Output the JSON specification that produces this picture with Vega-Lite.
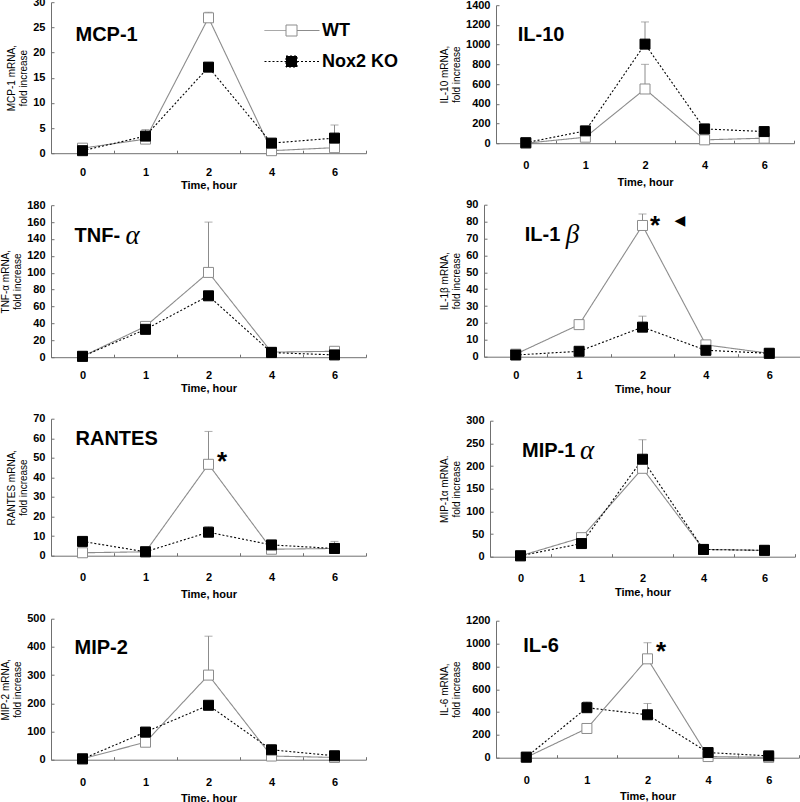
{
  "$schema": "https://vega.github.io/schema/vega-lite/v6.json",
  "padding": {"left": 0, "top": -4, "right": 0, "bottom": 0},
  "datasets": {
    "obs": [
      {"panel": "MCP-1", "group": "WT", "time": "0", "value": 1.0, "hi": 1.3},
      {"panel": "MCP-1", "group": "WT", "time": "1", "value": 2.8, "hi": 3.1},
      {"panel": "MCP-1", "group": "WT", "time": "2", "value": 26.9, "hi": 28.0},
      {"panel": "MCP-1", "group": "WT", "time": "4", "value": 0.5, "hi": 0.8},
      {"panel": "MCP-1", "group": "WT", "time": "6", "value": 1.1, "hi": 1.6},
      {"panel": "MCP-1", "group": "Nox2 KO", "time": "0", "value": 0.5, "hi": 0.7},
      {"panel": "MCP-1", "group": "Nox2 KO", "time": "1", "value": 3.4, "hi": 4.7},
      {"panel": "MCP-1", "group": "Nox2 KO", "time": "2", "value": 17.1, "hi": 18.0},
      {"panel": "MCP-1", "group": "Nox2 KO", "time": "4", "value": 2.0, "hi": 2.6},
      {"panel": "MCP-1", "group": "Nox2 KO", "time": "6", "value": 3.0, "hi": 5.6},
      {"panel": "IL-10", "group": "WT", "time": "0", "value": 0, "hi": 5},
      {"panel": "IL-10", "group": "WT", "time": "1", "value": 61, "hi": 70},
      {"panel": "IL-10", "group": "WT", "time": "2", "value": 550, "hi": 800},
      {"panel": "IL-10", "group": "WT", "time": "4", "value": 34, "hi": 40},
      {"panel": "IL-10", "group": "WT", "time": "6", "value": 51, "hi": 60},
      {"panel": "IL-10", "group": "Nox2 KO", "time": "0", "value": 5, "hi": 10},
      {"panel": "IL-10", "group": "Nox2 KO", "time": "1", "value": 125, "hi": 135},
      {"panel": "IL-10", "group": "Nox2 KO", "time": "2", "value": 1005, "hi": 1230},
      {"panel": "IL-10", "group": "Nox2 KO", "time": "4", "value": 145, "hi": 150},
      {"panel": "IL-10", "group": "Nox2 KO", "time": "6", "value": 118, "hi": 125},
      {"panel": "TNF-α", "group": "WT", "time": "0", "value": 1, "hi": 1},
      {"panel": "TNF-α", "group": "WT", "time": "1", "value": 36.5, "hi": 39},
      {"panel": "TNF-α", "group": "WT", "time": "2", "value": 100.4, "hi": 160},
      {"panel": "TNF-α", "group": "WT", "time": "4", "value": 6, "hi": 7},
      {"panel": "TNF-α", "group": "WT", "time": "6", "value": 7, "hi": 9},
      {"panel": "TNF-α", "group": "Nox2 KO", "time": "0", "value": 1, "hi": 1.5},
      {"panel": "TNF-α", "group": "Nox2 KO", "time": "1", "value": 33, "hi": 35},
      {"panel": "TNF-α", "group": "Nox2 KO", "time": "2", "value": 72.7, "hi": 74},
      {"panel": "TNF-α", "group": "Nox2 KO", "time": "4", "value": 5.5, "hi": 6.5},
      {"panel": "TNF-α", "group": "Nox2 KO", "time": "6", "value": 2.7, "hi": 3},
      {"panel": "IL-1β", "group": "WT", "time": "0", "value": 1.5, "hi": 2},
      {"panel": "IL-1β", "group": "WT", "time": "1", "value": 19, "hi": 20},
      {"panel": "IL-1β", "group": "WT", "time": "2", "value": 77.7, "hi": 84.5},
      {"panel": "IL-1β", "group": "WT", "time": "4", "value": 7, "hi": 8},
      {"panel": "IL-1β", "group": "WT", "time": "6", "value": 2, "hi": 2.5},
      {"panel": "IL-1β", "group": "Nox2 KO", "time": "0", "value": 1, "hi": 1},
      {"panel": "IL-1β", "group": "Nox2 KO", "time": "1", "value": 3.2, "hi": 3.5},
      {"panel": "IL-1β", "group": "Nox2 KO", "time": "2", "value": 17.5, "hi": 24},
      {"panel": "IL-1β", "group": "Nox2 KO", "time": "4", "value": 3.8, "hi": 4.2},
      {"panel": "IL-1β", "group": "Nox2 KO", "time": "6", "value": 2, "hi": 2.2},
      {"panel": "RANTES", "group": "WT", "time": "0", "value": 1.5, "hi": 1.8},
      {"panel": "RANTES", "group": "WT", "time": "1", "value": 2, "hi": 2.5},
      {"panel": "RANTES", "group": "WT", "time": "2", "value": 46.7, "hi": 63.5},
      {"panel": "RANTES", "group": "WT", "time": "4", "value": 3.3, "hi": 4},
      {"panel": "RANTES", "group": "WT", "time": "6", "value": 3.7, "hi": 4.2},
      {"panel": "RANTES", "group": "Nox2 KO", "time": "0", "value": 7.3, "hi": 8},
      {"panel": "RANTES", "group": "Nox2 KO", "time": "1", "value": 2, "hi": 2.5},
      {"panel": "RANTES", "group": "Nox2 KO", "time": "2", "value": 12, "hi": 14.8},
      {"panel": "RANTES", "group": "Nox2 KO", "time": "4", "value": 5.5, "hi": 6},
      {"panel": "RANTES", "group": "Nox2 KO", "time": "6", "value": 3.7, "hi": 7.3},
      {"panel": "MIP-1α", "group": "WT", "time": "0", "value": 2, "hi": 3},
      {"panel": "MIP-1α", "group": "WT", "time": "1", "value": 42, "hi": 45},
      {"panel": "MIP-1α", "group": "WT", "time": "2", "value": 195, "hi": 205},
      {"panel": "MIP-1α", "group": "WT", "time": "4", "value": 16, "hi": 18},
      {"panel": "MIP-1α", "group": "WT", "time": "6", "value": 14, "hi": 15},
      {"panel": "MIP-1α", "group": "Nox2 KO", "time": "0", "value": 2, "hi": 2.5},
      {"panel": "MIP-1α", "group": "Nox2 KO", "time": "1", "value": 29, "hi": 31},
      {"panel": "MIP-1α", "group": "Nox2 KO", "time": "2", "value": 215, "hi": 258},
      {"panel": "MIP-1α", "group": "Nox2 KO", "time": "4", "value": 16, "hi": 17},
      {"panel": "MIP-1α", "group": "Nox2 KO", "time": "6", "value": 14, "hi": 15},
      {"panel": "MIP-2", "group": "WT", "time": "0", "value": 3, "hi": 4},
      {"panel": "MIP-2", "group": "WT", "time": "1", "value": 62, "hi": 68},
      {"panel": "MIP-2", "group": "WT", "time": "2", "value": 300, "hi": 438},
      {"panel": "MIP-2", "group": "WT", "time": "4", "value": 13, "hi": 18},
      {"panel": "MIP-2", "group": "WT", "time": "6", "value": 8, "hi": 10},
      {"panel": "MIP-2", "group": "Nox2 KO", "time": "0", "value": 3, "hi": 4},
      {"panel": "MIP-2", "group": "Nox2 KO", "time": "1", "value": 98, "hi": 102},
      {"panel": "MIP-2", "group": "Nox2 KO", "time": "2", "value": 193, "hi": 196},
      {"panel": "MIP-2", "group": "Nox2 KO", "time": "4", "value": 35, "hi": 53},
      {"panel": "MIP-2", "group": "Nox2 KO", "time": "6", "value": 14, "hi": 16},
      {"panel": "IL-6", "group": "WT", "time": "0", "value": 3, "hi": 5},
      {"panel": "IL-6", "group": "WT", "time": "1", "value": 256, "hi": 270},
      {"panel": "IL-6", "group": "WT", "time": "2", "value": 866, "hi": 1007},
      {"panel": "IL-6", "group": "WT", "time": "4", "value": 10, "hi": 15},
      {"panel": "IL-6", "group": "WT", "time": "6", "value": 3, "hi": 5},
      {"panel": "IL-6", "group": "Nox2 KO", "time": "0", "value": 5, "hi": 8},
      {"panel": "IL-6", "group": "Nox2 KO", "time": "1", "value": 438, "hi": 490},
      {"panel": "IL-6", "group": "Nox2 KO", "time": "2", "value": 376, "hi": 475},
      {"panel": "IL-6", "group": "Nox2 KO", "time": "4", "value": 45, "hi": 55},
      {"panel": "IL-6", "group": "Nox2 KO", "time": "6", "value": 16, "hi": 20}
    ],
    "notes": [
      {"panel": "MCP-1", "kind": "label", "time": "0", "value": 23.4, "text": "MCP-1"},
      {"panel": "IL-10", "kind": "label", "time": "0", "value": 1096, "text": "IL-10"},
      {"panel": "TNF-α", "kind": "label", "time": "0", "value": 143, "text": "TNF-"},
      {"panel": "TNF-α", "kind": "greek", "time": "0", "value": 143, "text": "α"},
      {"panel": "IL-1β", "kind": "label", "time": "0", "value": 72, "text": "IL-1"},
      {"panel": "IL-1β", "kind": "greek", "time": "0", "value": 72, "text": "β"},
      {"panel": "IL-1β", "kind": "star", "time": "2", "value": 77.6, "text": "*"},
      {"panel": "IL-1β", "kind": "arrow", "time": "2", "value": 80.5, "text": "◀"},
      {"panel": "RANTES", "kind": "label", "time": "0", "value": 59.8, "text": "RANTES"},
      {"panel": "RANTES", "kind": "star", "time": "2", "value": 48, "text": "*"},
      {"panel": "MIP-1α", "kind": "label", "time": "0", "value": 234, "text": "MIP-1"},
      {"panel": "MIP-1α", "kind": "greek", "time": "0", "value": 234, "text": "α"},
      {"panel": "MIP-2", "kind": "label", "time": "0", "value": 397, "text": "MIP-2"},
      {"panel": "IL-6", "kind": "label", "time": "0", "value": 981, "text": "IL-6"},
      {"panel": "IL-6", "kind": "star", "time": "2", "value": 928, "text": "*"}
    ]
  },
  "spacing": 7.5,
  "vconcat": [
    {
      "hconcat": [
        {
          "width": 315, "height": 151,
          "encoding": {
            "x": {"field": "time", "type": "ordinal", "sort": ["0", "1", "2", "4", "6"], "scale": {"type": "band", "paddingInner": 0, "paddingOuter": 0}, "title": "Time, hour", "axis": {"labelPadding": 16.3, "titlePadding": 2.3}},
            "y": {"field": "value", "type": "quantitative", "title": ["MCP-1 mRNA,", "fold increase"], "scale": {"domain": [0, 30], "nice": false}, "axis": {"values": [0, 5, 10, 15, 20, 25, 30]}}
          },
          "layer": [
            {
              "data": {"name": "obs"},
              "transform": [{"filter": "datum.panel === 'MCP-1'"}],
              "layer": [
                {"mark": {"type": "rule", "color": "#8c8c8c", "strokeWidth": 1}, "encoding": {"y2": {"field": "hi"}}},
                {"mark": {"type": "tick", "color": "#8c8c8c", "size": 8, "thickness": 1}, "encoding": {"y": {"field": "hi", "type": "quantitative", "title": ["MCP-1 mRNA,", "fold increase"]}}},
                {"mark": {"type": "line", "strokeWidth": 1.1},
                 "encoding": {
                   "stroke": {"field": "group", "type": "nominal", "scale": {"domain": ["WT", "Nox2 KO"], "range": ["#8c8c8c", "#000000"]}, "legend": {"title": null, "orient": "none", "legendX": 230, "legendY": 18, "symbolType": "M-2.7,0H-0.55M0.55,0H2.8M-0.55,-0.55H0.55V0.55H-0.55Z", "symbolSize": 400, "symbolStrokeWidth": 1, "labelOffset": 20, "rowPadding": 11}},
                   "strokeDash": {"field": "group", "type": "nominal", "scale": {"domain": ["WT", "Nox2 KO"], "range": [[1, 0], [2, 2]]}, "legend": {"title": null, "orient": "none", "legendX": 230, "legendY": 18, "symbolType": "M-2.7,0H-0.55M0.55,0H2.8M-0.55,-0.55H0.55V0.55H-0.55Z", "symbolSize": 400, "symbolStrokeWidth": 1, "labelOffset": 20, "rowPadding": 11}}
                 }},
                {"mark": {"type": "point", "shape": "square", "size": 100, "filled": true, "strokeWidth": 1, "opacity": 1},
                 "encoding": {
                   "fill": {"field": "group", "type": "nominal", "scale": {"domain": ["WT", "Nox2 KO"], "range": ["#ffffff", "#000000"]}, "legend": {"title": null, "orient": "none", "legendX": 230, "legendY": 18, "symbolType": "M-2.7,0H-0.55M0.55,0H2.8M-0.55,-0.55H0.55V0.55H-0.55Z", "symbolSize": 400, "symbolStrokeWidth": 1, "labelOffset": 20, "rowPadding": 11}},
                   "stroke": {"field": "group", "type": "nominal", "scale": {"domain": ["WT", "Nox2 KO"], "range": ["#8c8c8c", "#000000"]}}
                 }}
              ]
            },
            {"data": {"name": "notes"}, "transform": [{"filter": "datum.panel === 'MCP-1' && datum.kind === 'label'"}],
             "mark": {"type": "text", "align": "left", "baseline": "middle", "fontSize": 20, "fontWeight": "bold", "dx": -7},
             "encoding": {"text": {"field": "text"}}}
          ]
        },
        {
          "width": 298, "height": 138,
          "encoding": {
            "x": {"field": "time", "type": "ordinal", "sort": ["0", "1", "2", "4", "6"], "scale": {"type": "band", "paddingInner": 0, "paddingOuter": 0}, "title": "Time, hour", "axis": {"labelPadding": 19.3, "titlePadding": 6.3}},
            "y": {"field": "value", "type": "quantitative", "title": ["IL-10 mRNA,", "fold increase"], "scale": {"domain": [0, 1400], "nice": false}, "axis": {"values": [0, 200, 400, 600, 800, 1000, 1200, 1400], "format": "d"}}
          },
          "layer": [
            {
              "data": {"name": "obs"},
              "transform": [{"filter": "datum.panel === 'IL-10'"}],
              "layer": [
                {"mark": {"type": "rule", "color": "#8c8c8c", "strokeWidth": 1}, "encoding": {"y2": {"field": "hi"}}},
                {"mark": {"type": "tick", "color": "#8c8c8c", "size": 8, "thickness": 1}, "encoding": {"y": {"field": "hi", "type": "quantitative", "title": ["IL-10 mRNA,", "fold increase"]}}},
                {"mark": {"type": "line", "strokeWidth": 1.1},
                 "encoding": {
                   "stroke": {"field": "group", "type": "nominal", "scale": {"domain": ["WT", "Nox2 KO"], "range": ["#8c8c8c", "#000000"]}},
                   "strokeDash": {"field": "group", "type": "nominal", "scale": {"domain": ["WT", "Nox2 KO"], "range": [[1, 0], [2, 2]]}}
                 }},
                {"mark": {"type": "point", "shape": "square", "size": 100, "filled": true, "strokeWidth": 1, "opacity": 1},
                 "encoding": {
                   "fill": {"field": "group", "type": "nominal", "scale": {"domain": ["WT", "Nox2 KO"], "range": ["#ffffff", "#000000"]}},
                   "stroke": {"field": "group", "type": "nominal", "scale": {"domain": ["WT", "Nox2 KO"], "range": ["#8c8c8c", "#000000"]}}
                 }}
              ]
            },
            {"data": {"name": "notes"}, "transform": [{"filter": "datum.panel === 'IL-10' && datum.kind === 'label'"}],
             "mark": {"type": "text", "align": "left", "baseline": "middle", "fontSize": 20, "fontWeight": "bold", "dx": -8},
             "encoding": {"text": {"field": "text"}}}
          ]
        }
      ],
      "spacing": 72,
      "center": true
    },
    {
      "spacing": 18,
      "vconcat": [
        {
          "hconcat": [
            {
              "width": 315, "height": 152,
              "encoding": {
                "x": {"field": "time", "type": "ordinal", "sort": ["0", "1", "2", "4", "6"], "scale": {"type": "band", "paddingInner": 0, "paddingOuter": 0}, "title": "Time, hour", "axis": {"labelPadding": 15.3, "titlePadding": 2.3}},
                "y": {"field": "value", "type": "quantitative", "title": ["TNF-α mRNA,", "fold increase"], "scale": {"domain": [0, 180], "nice": false}, "axis": {"values": [0, 20, 40, 60, 80, 100, 120, 140, 160, 180]}}
              },
              "layer": [
                {
                  "data": {"name": "obs"},
                  "transform": [{"filter": "datum.panel === 'TNF-α'"}],
                  "layer": [
                    {"mark": {"type": "rule", "color": "#8c8c8c", "strokeWidth": 1}, "encoding": {"y2": {"field": "hi"}}},
                    {"mark": {"type": "tick", "color": "#8c8c8c", "size": 8, "thickness": 1}, "encoding": {"y": {"field": "hi", "type": "quantitative", "title": ["TNF-α mRNA,", "fold increase"]}}},
                    {"mark": {"type": "line", "strokeWidth": 1.1},
                     "encoding": {
                       "stroke": {"field": "group", "type": "nominal", "scale": {"domain": ["WT", "Nox2 KO"], "range": ["#8c8c8c", "#000000"]}},
                       "strokeDash": {"field": "group", "type": "nominal", "scale": {"domain": ["WT", "Nox2 KO"], "range": [[1, 0], [2, 2]]}}
                     }},
                    {"mark": {"type": "point", "shape": "square", "size": 100, "filled": true, "strokeWidth": 1, "opacity": 1},
                     "encoding": {
                       "fill": {"field": "group", "type": "nominal", "scale": {"domain": ["WT", "Nox2 KO"], "range": ["#ffffff", "#000000"]}},
                       "stroke": {"field": "group", "type": "nominal", "scale": {"domain": ["WT", "Nox2 KO"], "range": ["#8c8c8c", "#000000"]}}
                     }}
                  ]
                },
                {"data": {"name": "notes"}, "transform": [{"filter": "datum.panel === 'TNF-α' && datum.kind === 'label'"}],
                 "mark": {"type": "text", "align": "left", "baseline": "middle", "fontSize": 20, "fontWeight": "bold", "dx": -8},
                 "encoding": {"text": {"field": "text"}}},
                {"data": {"name": "notes"}, "transform": [{"filter": "datum.panel === 'TNF-α' && datum.kind === 'greek'"}],
                 "mark": {"type": "text", "align": "left", "baseline": "middle", "fontSize": 27, "font": "Liberation Serif", "fontStyle": "italic", "dx": 43},
                 "encoding": {"text": {"field": "text"}}}
              ]
            },
            {
              "width": 317, "height": 152,
              "encoding": {
                "x": {"field": "time", "type": "ordinal", "sort": ["0", "1", "2", "4", "6"], "scale": {"type": "band", "paddingInner": 0, "paddingOuter": 0}, "title": "Time, hour", "axis": {"labelPadding": 15.3, "titlePadding": 3.3}},
                "y": {"field": "value", "type": "quantitative", "title": ["IL-1β mRNA,", "fold increase"], "scale": {"domain": [0, 90], "nice": false}, "axis": {"values": [0, 10, 20, 30, 40, 50, 60, 70, 80, 90]}}
              },
              "layer": [
                {
                  "data": {"name": "obs"},
                  "transform": [{"filter": "datum.panel === 'IL-1β'"}],
                  "layer": [
                    {"mark": {"type": "rule", "color": "#8c8c8c", "strokeWidth": 1}, "encoding": {"y2": {"field": "hi"}}},
                    {"mark": {"type": "tick", "color": "#8c8c8c", "size": 8, "thickness": 1}, "encoding": {"y": {"field": "hi", "type": "quantitative", "title": ["IL-1β mRNA,", "fold increase"]}}},
                    {"mark": {"type": "line", "strokeWidth": 1.1},
                     "encoding": {
                       "stroke": {"field": "group", "type": "nominal", "scale": {"domain": ["WT", "Nox2 KO"], "range": ["#8c8c8c", "#000000"]}},
                       "strokeDash": {"field": "group", "type": "nominal", "scale": {"domain": ["WT", "Nox2 KO"], "range": [[1, 0], [2, 2]]}}
                     }},
                    {"mark": {"type": "point", "shape": "square", "size": 100, "filled": true, "strokeWidth": 1, "opacity": 1},
                     "encoding": {
                       "fill": {"field": "group", "type": "nominal", "scale": {"domain": ["WT", "Nox2 KO"], "range": ["#ffffff", "#000000"]}},
                       "stroke": {"field": "group", "type": "nominal", "scale": {"domain": ["WT", "Nox2 KO"], "range": ["#8c8c8c", "#000000"]}}
                     }}
                  ]
                },
                {"data": {"name": "notes"}, "transform": [{"filter": "datum.panel === 'IL-1β' && datum.kind === 'label'"}],
                 "mark": {"type": "text", "align": "left", "baseline": "middle", "fontSize": 20, "fontWeight": "bold", "dx": 9},
                 "encoding": {"text": {"field": "text"}}},
                {"data": {"name": "notes"}, "transform": [{"filter": "datum.panel === 'IL-1β' && datum.kind === 'greek'"}],
                 "mark": {"type": "text", "align": "left", "baseline": "middle", "fontSize": 27, "font": "Liberation Serif", "fontStyle": "italic", "dx": 50},
                 "encoding": {"text": {"field": "text"}}},
                {"data": {"name": "notes"}, "transform": [{"filter": "datum.panel === 'IL-1β' && datum.kind === 'star'"}],
                 "mark": {"type": "text", "align": "center", "baseline": "middle", "fontSize": 26, "fontWeight": "bold", "dx": 12.5},
                 "encoding": {"text": {"field": "text"}}},
                {"data": {"name": "notes"}, "transform": [{"filter": "datum.panel === 'IL-1β' && datum.kind === 'arrow'"}],
                 "mark": {"type": "text", "align": "center", "baseline": "middle", "fontSize": 14, "font": "DejaVu Sans", "dx": 37.5},
                 "encoding": {"text": {"field": "text"}}}
              ]
            }
          ],
          "spacing": 72,
          "center": true
        },
        {
          "spacing": 13,
          "vconcat": [
            {
              "hconcat": [
                {
                  "width": 315, "height": 137,
                  "encoding": {
                    "x": {"field": "time", "type": "ordinal", "sort": ["0", "1", "2", "4", "6"], "scale": {"type": "band", "paddingInner": 0, "paddingOuter": 0}, "title": "Time, hour", "axis": {"labelPadding": 18.3, "titlePadding": 6.3}},
                    "y": {"field": "value", "type": "quantitative", "title": ["RANTES mRNA,", "fold increase"], "scale": {"domain": [0, 70], "nice": false}, "axis": {"values": [0, 10, 20, 30, 40, 50, 60, 70]}}
                  },
                  "layer": [
                    {
                      "data": {"name": "obs"},
                      "transform": [{"filter": "datum.panel === 'RANTES'"}],
                      "layer": [
                        {"mark": {"type": "rule", "color": "#8c8c8c", "strokeWidth": 1}, "encoding": {"y2": {"field": "hi"}}},
                        {"mark": {"type": "tick", "color": "#8c8c8c", "size": 8, "thickness": 1}, "encoding": {"y": {"field": "hi", "type": "quantitative", "title": ["RANTES mRNA,", "fold increase"]}}},
                        {"mark": {"type": "line", "strokeWidth": 1.1},
                         "encoding": {
                           "stroke": {"field": "group", "type": "nominal", "scale": {"domain": ["WT", "Nox2 KO"], "range": ["#8c8c8c", "#000000"]}},
                           "strokeDash": {"field": "group", "type": "nominal", "scale": {"domain": ["WT", "Nox2 KO"], "range": [[1, 0], [2, 2]]}}
                         }},
                        {"mark": {"type": "point", "shape": "square", "size": 100, "filled": true, "strokeWidth": 1, "opacity": 1},
                         "encoding": {
                           "fill": {"field": "group", "type": "nominal", "scale": {"domain": ["WT", "Nox2 KO"], "range": ["#ffffff", "#000000"]}},
                           "stroke": {"field": "group", "type": "nominal", "scale": {"domain": ["WT", "Nox2 KO"], "range": ["#8c8c8c", "#000000"]}}
                         }}
                      ]
                    },
                    {"data": {"name": "notes"}, "transform": [{"filter": "datum.panel === 'RANTES' && datum.kind === 'label'"}],
                     "mark": {"type": "text", "align": "left", "baseline": "middle", "fontSize": 20, "fontWeight": "bold", "dx": -7},
                     "encoding": {"text": {"field": "text"}}},
                    {"data": {"name": "notes"}, "transform": [{"filter": "datum.panel === 'RANTES' && datum.kind === 'star'"}],
                     "mark": {"type": "text", "align": "center", "baseline": "middle", "fontSize": 26, "fontWeight": "bold", "dx": 13.5},
                     "encoding": {"text": {"field": "text"}}}
                  ]
                },
                {
                  "width": 305, "height": 136,
                  "encoding": {
                    "x": {"field": "time", "type": "ordinal", "sort": ["0", "1", "2", "4", "6"], "scale": {"type": "band", "paddingInner": 0, "paddingOuter": 0}, "title": "Time, hour", "axis": {"labelPadding": 18.3, "titlePadding": 3.3}},
                    "y": {"field": "value", "type": "quantitative", "title": ["MIP-1α mRNA.", "fold increase"], "scale": {"domain": [0, 300], "nice": false}, "axis": {"values": [0, 50, 100, 150, 200, 250, 300]}}
                  },
                  "layer": [
                    {
                      "data": {"name": "obs"},
                      "transform": [{"filter": "datum.panel === 'MIP-1α'"}],
                      "layer": [
                        {"mark": {"type": "rule", "color": "#8c8c8c", "strokeWidth": 1}, "encoding": {"y2": {"field": "hi"}}},
                        {"mark": {"type": "tick", "color": "#8c8c8c", "size": 8, "thickness": 1}, "encoding": {"y": {"field": "hi", "type": "quantitative", "title": ["MIP-1α mRNA.", "fold increase"]}}},
                        {"mark": {"type": "line", "strokeWidth": 1.1},
                         "encoding": {
                           "stroke": {"field": "group", "type": "nominal", "scale": {"domain": ["WT", "Nox2 KO"], "range": ["#8c8c8c", "#000000"]}},
                           "strokeDash": {"field": "group", "type": "nominal", "scale": {"domain": ["WT", "Nox2 KO"], "range": [[1, 0], [2, 2]]}}
                         }},
                        {"mark": {"type": "point", "shape": "square", "size": 100, "filled": true, "strokeWidth": 1, "opacity": 1},
                         "encoding": {
                           "fill": {"field": "group", "type": "nominal", "scale": {"domain": ["WT", "Nox2 KO"], "range": ["#ffffff", "#000000"]}},
                           "stroke": {"field": "group", "type": "nominal", "scale": {"domain": ["WT", "Nox2 KO"], "range": ["#8c8c8c", "#000000"]}}
                         }}
                      ]
                    },
                    {"data": {"name": "notes"}, "transform": [{"filter": "datum.panel === 'MIP-1α' && datum.kind === 'label'"}],
                     "mark": {"type": "text", "align": "left", "baseline": "middle", "fontSize": 20, "fontWeight": "bold", "dx": 1.5},
                     "encoding": {"text": {"field": "text"}}},
                    {"data": {"name": "notes"}, "transform": [{"filter": "datum.panel === 'MIP-1α' && datum.kind === 'greek'"}],
                     "mark": {"type": "text", "align": "left", "baseline": "middle", "fontSize": 27, "font": "Liberation Serif", "fontStyle": "italic", "dx": 59.5},
                     "encoding": {"text": {"field": "text"}}}
                  ]
                }
              ],
              "spacing": 72,
              "center": true
            },
            {
              "hconcat": [
                {
                  "width": 315, "height": 141,
                  "encoding": {
                    "x": {"field": "time", "type": "ordinal", "sort": ["0", "1", "2", "4", "6"], "scale": {"type": "band", "paddingInner": 0, "paddingOuter": 0}, "title": "Time, hour", "axis": {"labelPadding": 19.3, "titlePadding": 5.3}},
                    "y": {"field": "value", "type": "quantitative", "title": ["MIP-2 mRNA,", "fold increase"], "scale": {"domain": [0, 500], "nice": false}, "axis": {"values": [0, 100, 200, 300, 400, 500]}}
                  },
                  "layer": [
                    {
                      "data": {"name": "obs"},
                      "transform": [{"filter": "datum.panel === 'MIP-2'"}],
                      "layer": [
                        {"mark": {"type": "rule", "color": "#8c8c8c", "strokeWidth": 1}, "encoding": {"y2": {"field": "hi"}}},
                        {"mark": {"type": "tick", "color": "#8c8c8c", "size": 8, "thickness": 1}, "encoding": {"y": {"field": "hi", "type": "quantitative", "title": ["MIP-2 mRNA,", "fold increase"]}}},
                        {"mark": {"type": "line", "strokeWidth": 1.1},
                         "encoding": {
                           "stroke": {"field": "group", "type": "nominal", "scale": {"domain": ["WT", "Nox2 KO"], "range": ["#8c8c8c", "#000000"]}},
                           "strokeDash": {"field": "group", "type": "nominal", "scale": {"domain": ["WT", "Nox2 KO"], "range": [[1, 0], [2, 2]]}}
                         }},
                        {"mark": {"type": "point", "shape": "square", "size": 100, "filled": true, "strokeWidth": 1, "opacity": 1},
                         "encoding": {
                           "fill": {"field": "group", "type": "nominal", "scale": {"domain": ["WT", "Nox2 KO"], "range": ["#ffffff", "#000000"]}},
                           "stroke": {"field": "group", "type": "nominal", "scale": {"domain": ["WT", "Nox2 KO"], "range": ["#8c8c8c", "#000000"]}}
                         }}
                      ]
                    },
                    {"data": {"name": "notes"}, "transform": [{"filter": "datum.panel === 'MIP-2' && datum.kind === 'label'"}],
                     "mark": {"type": "text", "align": "left", "baseline": "middle", "fontSize": 20, "fontWeight": "bold", "dx": -8},
                     "encoding": {"text": {"field": "text"}}}
                  ]
                },
                {
                  "width": 303, "height": 137,
                  "encoding": {
                    "x": {"field": "time", "type": "ordinal", "sort": ["0", "1", "2", "4", "6"], "scale": {"type": "band", "paddingInner": 0, "paddingOuter": 0}, "title": "Time, hour", "axis": {"labelPadding": 19.3, "titlePadding": 5.3}},
                    "y": {"field": "value", "type": "quantitative", "title": ["IL-6 mRNA,", "fold increase"], "scale": {"domain": [0, 1200], "nice": false}, "axis": {"values": [0, 200, 400, 600, 800, 1000, 1200], "format": "d"}}
                  },
                  "layer": [
                    {
                      "data": {"name": "obs"},
                      "transform": [{"filter": "datum.panel === 'IL-6'"}],
                      "layer": [
                        {"mark": {"type": "rule", "color": "#8c8c8c", "strokeWidth": 1}, "encoding": {"y2": {"field": "hi"}}},
                        {"mark": {"type": "tick", "color": "#8c8c8c", "size": 8, "thickness": 1}, "encoding": {"y": {"field": "hi", "type": "quantitative", "title": ["IL-6 mRNA,", "fold increase"]}}},
                        {"mark": {"type": "line", "strokeWidth": 1.1},
                         "encoding": {
                           "stroke": {"field": "group", "type": "nominal", "scale": {"domain": ["WT", "Nox2 KO"], "range": ["#8c8c8c", "#000000"]}},
                           "strokeDash": {"field": "group", "type": "nominal", "scale": {"domain": ["WT", "Nox2 KO"], "range": [[1, 0], [2, 2]]}}
                         }},
                        {"mark": {"type": "point", "shape": "square", "size": 100, "filled": true, "strokeWidth": 1, "opacity": 1},
                         "encoding": {
                           "fill": {"field": "group", "type": "nominal", "scale": {"domain": ["WT", "Nox2 KO"], "range": ["#ffffff", "#000000"]}},
                           "stroke": {"field": "group", "type": "nominal", "scale": {"domain": ["WT", "Nox2 KO"], "range": ["#8c8c8c", "#000000"]}}
                         }}
                      ]
                    },
                    {"data": {"name": "notes"}, "transform": [{"filter": "datum.panel === 'IL-6' && datum.kind === 'label'"}],
                     "mark": {"type": "text", "align": "left", "baseline": "middle", "fontSize": 20, "fontWeight": "bold", "dx": -3},
                     "encoding": {"text": {"field": "text"}}},
                    {"data": {"name": "notes"}, "transform": [{"filter": "datum.panel === 'IL-6' && datum.kind === 'star'"}],
                     "mark": {"type": "text", "align": "center", "baseline": "middle", "fontSize": 26, "fontWeight": "bold", "dx": 13.5},
                     "encoding": {"text": {"field": "text"}}}
                  ]
                }
              ],
              "spacing": 72,
              "center": true
            }
          ]
        }
      ]
    }
  ],
  "config": {
    "font": "Liberation Sans",
    "view": {"stroke": null},
    "axis": {"grid": false, "labelFont": "Liberation Sans", "labelFontWeight": "bold", "labelFontSize": 11, "labelColor": "#000000", "domainColor": "#707070", "tickColor": "#707070", "titleFont": "Liberation Sans", "titleColor": "#000000"},
    "axisY": {"tickSize": -3, "labelPadding": 9, "titleFontSize": 10, "titleFontWeight": "normal", "titlePadding": 4, "titleLineHeight": 12},
    "axisX": {"tickBand": "extent", "tickSize": -3, "labelAngle": 0, "titleFontSize": 11, "titleFontWeight": "bold"},
    "legend": {"labelFont": "Liberation Sans", "labelFontSize": 18, "labelFontWeight": "bold", "labelColor": "#000000"},
    "text": {"font": "Liberation Sans", "color": "#000000"}
  }
}
